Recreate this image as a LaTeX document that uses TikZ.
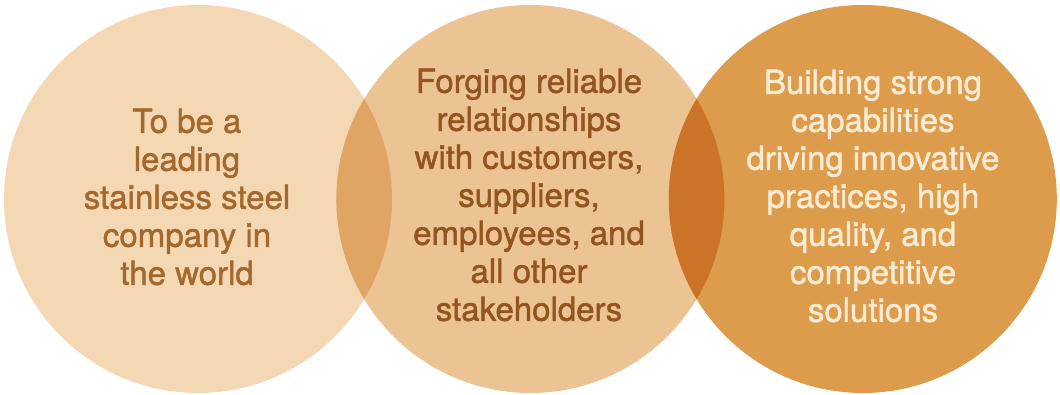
\documentclass[tikz,border=0pt]{standalone}
\usepackage{fontspec}
\setmainfont{TeX Gyre Heros}
\newfontfamily\mediumface{TeX Gyre Heros}[UprightFeatures={FakeBold=1.4}]
\usetikzlibrary{positioning}

\definecolor{pale}{HTML}{F4D8B3}
\definecolor{sand}{HTML}{ECC392}
\definecolor{amber}{HTML}{DC9C4B}
\definecolor{lensa}{HTML}{E0A464}
\definecolor{lensb}{HTML}{CB7427}
\definecolor{brownink}{HTML}{A3682C}
\definecolor{darkink}{HTML}{925522}
\definecolor{creamink}{HTML}{FAEBD4}

\begin{document}
\begin{tikzpicture}[x=1pt,y=1pt]

\tikzstyle{every node}=[inner sep=0pt]
\tikzstyle{disc}=[circle,minimum size=388pt,draw=none]
\tikzstyle{label}=[align=center,font=\mediumface\fontsize{33}{38}\selectfont]

\useasboundingbox (0,0) rectangle (1060,394);

\node[disc, fill=pale] (1) at (198,195) {};
\node[disc, fill=sand, right=-56pt of 1] (2) {};
\node[disc, fill=amber, right=-56pt of 2] (3) {};

% overlaps
\begin{scope}
\clip (1.center) circle (194pt);
\fill[lensa] (2.center) circle (194pt);
\end{scope}
\begin{scope}
\clip (2.center) circle (194pt);
\fill[lensb] (3.center) circle (194pt);
\end{scope}

\node[label, text=brownink] (goal) at (187,197) {To be a\\leading\\stainless steel\\company in\\the world};
\node[label, text=darkink] (ties) at (529,199) {Forging reliable\\relationships\\with customers,\\suppliers,\\employees, and\\all other\\stakeholders};
\node[label, text=creamink] (skill) at (873,198) {Building strong\\capabilities\\driving innovative\\practices, high\\quality, and\\competitive\\solutions};

\end{tikzpicture}
\end{document}
